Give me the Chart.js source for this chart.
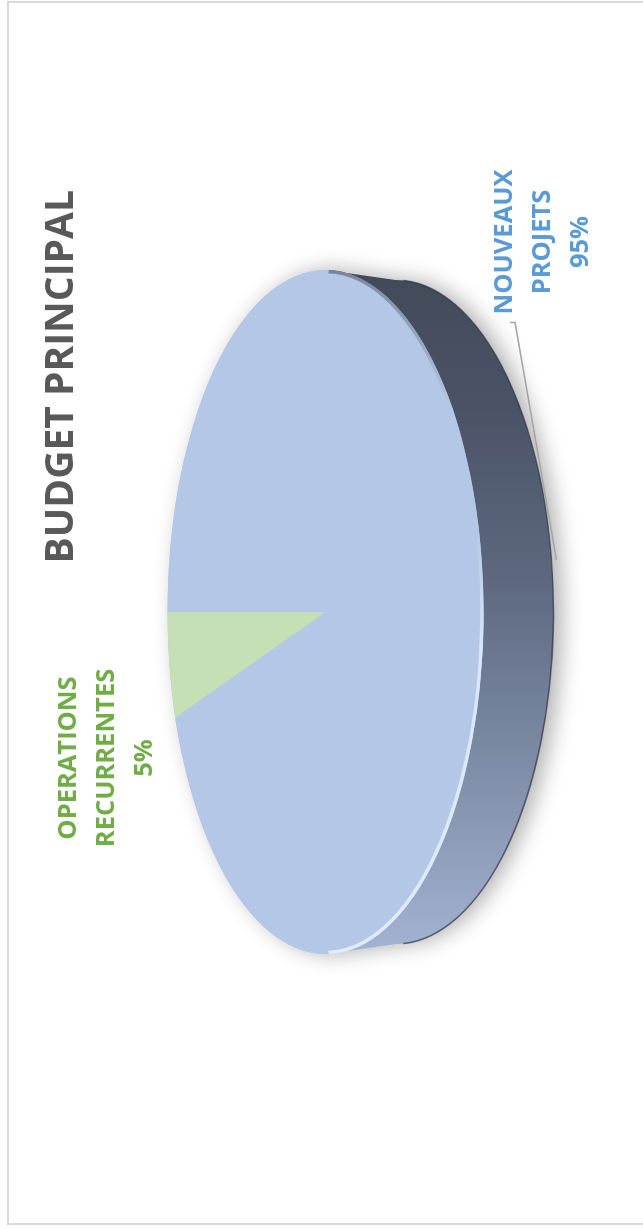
<!DOCTYPE html>
<html>
<head>
<meta charset="utf-8">
<script src="https://cdn.jsdelivr.net/npm/chart.js@4.4.1/dist/chart.umd.min.js"></script>
<style>
  html, body { margin: 0; padding: 0; background: #ffffff; width: 643px; height: 1229px; overflow: hidden; }
  #frame { position: absolute; left: 7px; top: 1px; width: 700px; height: 1224px; box-sizing: border-box; border: 2px solid #d9d9d9; }
  #rot { position: absolute; left: 0; top: 0; width: 1229px; height: 643px; transform-origin: 0 0; transform: translateY(1229px) rotate(-90deg); }
</style>
</head>
<body>
<div id="frame"></div>
<div id="rot"><canvas id="c" width="1229" height="643"></canvas></div>
<script>
// ---- data ----
const categories = ['NOUVEAUX PROJETS', 'OPERATIONS RECURRENTES'];
const labelLines = [['NOUVEAUX', 'PROJETS'], ['OPERATIONS', 'RECURRENTES']];
const values = [95, 5];
const chartTitle = 'BUDGET PRINCIPAL';

// ---- style ----
const sliceColors = ['#b4c7e7', '#c5e0b4'];
const labelColors = ['#5b9bd5', '#70ad47'];
const RX = 342, RY = 158, DEPTH = 70, RX_BOTTOM = 332;
const LABEL_CENTERS = [{ x: 987, y: 543 }, { x: 471, y: 107 }];
const LABEL_FONT = 'bold 25.5px "Open Sans"';
const LABEL_LINE = 38;

const pie3d = {
  id: 'pie3d',
  beforeDatasetsDraw(chart) {
    const ctx = chart.ctx;
    const arc = chart.getDatasetMeta(0).data[0];
    const cx = arc.x, cy = arc.y, r = arc.outerRadius;
    const by = cy + DEPTH;
    // shadow + body
    ctx.save();
    ctx.beginPath();
    ctx.ellipse(cx, cy, RX, RY, 0, Math.PI, 2 * Math.PI);
    ctx.lineTo(cx + RX_BOTTOM, by);
    ctx.ellipse(cx, by, RX_BOTTOM, RY, 0, 0, Math.PI);
    ctx.closePath();
    ctx.shadowColor = 'rgba(0,0,0,0.32)';
    ctx.shadowBlur = 22;
    ctx.shadowOffsetY = 8;
    ctx.fillStyle = sliceColors[0];
    ctx.fill();
    ctx.restore();
    // side band
    ctx.save();
    const g = ctx.createLinearGradient(cx - RX, 0, cx + RX, 0);
    g.addColorStop(0, '#a3b3d2');
    g.addColorStop(0.3, '#7c89a3');
    g.addColorStop(0.55, '#5d6880');
    g.addColorStop(0.8, '#4a5366');
    g.addColorStop(1, '#424a59');
    ctx.beginPath();
    ctx.ellipse(cx, cy, RX, RY, 0, 0, Math.PI);
    ctx.lineTo(cx - RX_BOTTOM, by);
    ctx.ellipse(cx, by, RX_BOTTOM, RY, 0, Math.PI, 0, true);
    ctx.closePath();
    ctx.fillStyle = g;
    ctx.fill();
    ctx.beginPath();
    ctx.ellipse(cx, by, RX_BOTTOM, RY, 0, 0.05, Math.PI - 0.05);
    ctx.strokeStyle = 'rgba(45,50,65,0.7)';
    ctx.lineWidth = 1.5;
    ctx.stroke();
    ctx.restore();
    // flatten the pie into an ellipse
    ctx.save();
    ctx.translate(cx, cy);
    ctx.scale(RX / r, RY / r);
    ctx.translate(-cx, -cy);
  },
  afterDatasetsDraw(chart) {
    const ctx = chart.ctx;
    ctx.restore();
    const meta = chart.getDatasetMeta(0);
    const arc = meta.data[0];
    const cx = arc.x, cy = arc.y;
    // rim highlight on the front edge of the top face
    ctx.save();
    const rg = ctx.createLinearGradient(cx - RX, 0, cx + RX, 0);
    rg.addColorStop(0, 'rgba(225,238,255,0.95)');
    rg.addColorStop(0.45, 'rgba(225,238,255,0.8)');
    rg.addColorStop(0.62, 'rgba(225,238,255,0)');
    rg.addColorStop(0.8, 'rgba(60,68,88,0)');
    rg.addColorStop(1, 'rgba(60,68,88,0.5)');
    ctx.beginPath();
    ctx.ellipse(cx, cy, RX - 1.5, RY - 1.5, 0, 0.02, Math.PI - 0.02);
    ctx.strokeStyle = rg;
    ctx.lineWidth = 3.5;
    ctx.stroke();
    ctx.restore();

    // data labels
    const total = values.reduce((a, b) => a + b, 0);
    ctx.save();
    ctx.font = LABEL_FONT;
    ctx.textAlign = 'center';
    ctx.textBaseline = 'middle';
    values.forEach((v, i) => {
      const lines = [...labelLines[i], Math.round(v / total * 100) + '%'];
      const c = LABEL_CENTERS[i];
      const y0 = c.y - (lines.length - 1) / 2 * LABEL_LINE;
      ctx.fillStyle = labelColors[i];
      lines.forEach((t, k) => ctx.fillText(t, c.x, y0 + k * LABEL_LINE));
    });
    // leader line for the big slice
    const a = meta.data[0];
    const mid = (a.startAngle + a.endAngle) / 2;
    const ex = cx + RX_BOTTOM * Math.cos(mid);
    const ey = cy + DEPTH + RY * Math.sin(mid) + 5;
    const w0 = ctx.measureText(labelLines[0][0]).width;
    const c0 = LABEL_CENTERS[0];
    const sx = c0.x - w0 / 2 - 8;
    const sy = c0.y - LABEL_LINE;
    ctx.beginPath();
    ctx.moveTo(sx, sy + 5);
    ctx.lineTo(sx, sy + 10);
    ctx.lineTo(ex, ey);
    ctx.strokeStyle = '#a6a6a6';
    ctx.lineWidth = 1.5;
    ctx.stroke();
    ctx.restore();
  }
};

function build() {
  new Chart(document.getElementById('c'), {
    type: 'pie',
    data: {
      labels: categories,
      datasets: [{
        data: values,
        backgroundColor: sliceColors,
        borderWidth: 0,
        clip: false
      }]
    },
    options: {
      responsive: false,
      animation: false,
      events: [],
      layout: { padding: { left: 195, right: 190, top: 0, bottom: 87.4 } },
      plugins: {
        legend: { display: false },
        tooltip: { enabled: false },
        title: {
          display: true,
          text: chartTitle,
          align: 'end',
          color: '#595959',
          font: { family: 'Open Sans', size: 39, weight: 'bold' },
          padding: { top: 38.6, bottom: 10 }
        }
      }
    },
    plugins: [pie3d]
  });
}
Promise.all([
  document.fonts.load('bold 25.5px "Open Sans"'),
  document.fonts.load('bold 39px "Open Sans"')
]).then(build, build);
</script>
</body>
</html>
